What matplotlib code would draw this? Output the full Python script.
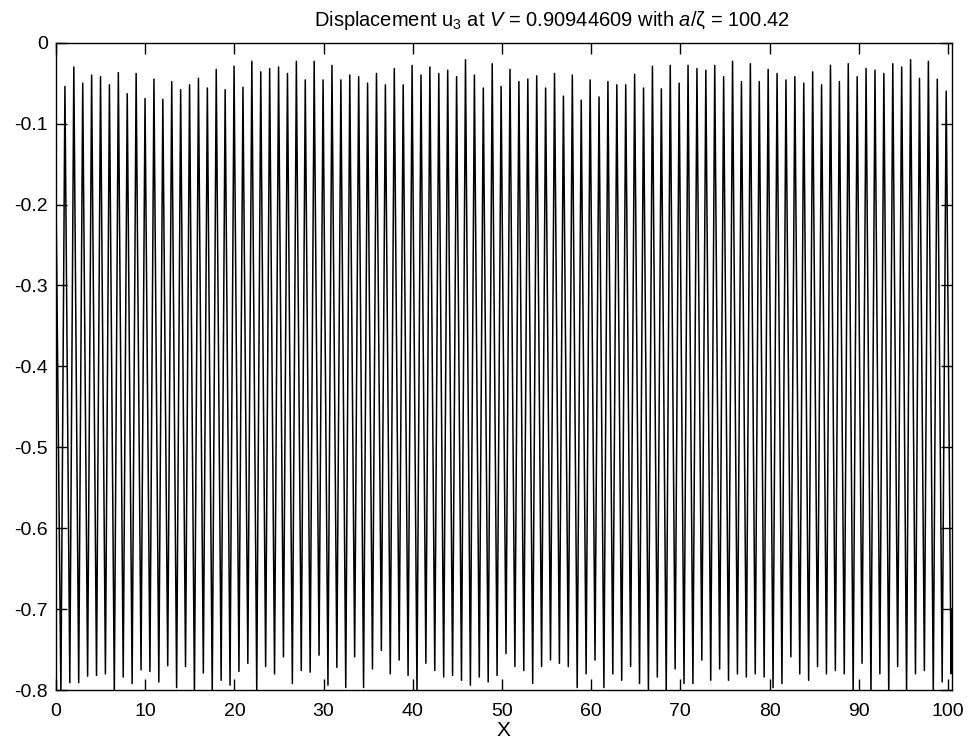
import matplotlib
matplotlib.use('Agg')
import matplotlib.pyplot as plt
import numpy as np

# crest values (one per cycle)
tops = [-0.054, -0.030, -0.050, -0.040, -0.042, -0.052, -0.037, -0.063, -0.038, -0.069,
        -0.045, -0.070, -0.048, -0.058, -0.052, -0.044, -0.056, -0.033, -0.058, -0.029,
        -0.055, -0.023, -0.036, -0.032, -0.030, -0.038, -0.023, -0.046, -0.023, -0.046,
        -0.028, -0.046, -0.040, -0.042, -0.050, -0.038, -0.052, -0.032, -0.052, -0.028,
        -0.040, -0.030, -0.038, -0.034, -0.042, -0.021, -0.040, -0.056, -0.026, -0.054,
        -0.033, -0.048, -0.045, -0.041, -0.056, -0.038, -0.066, -0.040, -0.071, -0.046,
        -0.067, -0.048, -0.052, -0.052, -0.039, -0.056, -0.029, -0.057, -0.028, -0.050,
        -0.028, -0.032, -0.034, -0.028, -0.042, -0.023, -0.048, -0.026, -0.048, -0.033,
        -0.038, -0.046, -0.042, -0.050, -0.036, -0.052, -0.028, -0.048, -0.026, -0.042,
        -0.032, -0.034, -0.038, -0.026, -0.030, -0.021, -0.044, -0.023, -0.045, -0.060]

# trough values (one per cycle, plus the last one)
bottoms = [-0.805, -0.791, -0.791, -0.783, -0.782, -0.780, -0.805, -0.784, -0.792, -0.775,
           -0.777, -0.790, -0.770, -0.797, -0.771, -0.805, -0.779, -0.805, -0.788, -0.794,
           -0.777, -0.767, -0.800, -0.771, -0.780, -0.759, -0.792, -0.776, -0.778, -0.757,
           -0.794, -0.772, -0.797, -0.759, -0.797, -0.774, -0.751, -0.780, -0.763, -0.782,
           -0.803, -0.767, -0.776, -0.784, -0.782, -0.788, -0.794, -0.784, -0.790, -0.782,
           -0.755, -0.771, -0.776, -0.792, -0.771, -0.763, -0.767, -0.771, -0.797, -0.780,
           -0.763, -0.797, -0.780, -0.788, -0.771, -0.792, -0.801, -0.784, -0.803, -0.774,
           -0.792, -0.792, -0.763, -0.788, -0.774, -0.788, -0.780, -0.784, -0.780, -0.784,
           -0.797, -0.792, -0.759, -0.780, -0.788, -0.771, -0.780, -0.776, -0.780, -0.805,
           -0.767, -0.805, -0.780, -0.805, -0.771, -0.805, -0.780, -0.776, -0.805, -0.790,
           -0.780]

x_start, u_start = 0.0, -0.19
x_end, u_end = 100.42, -0.70
period = 0.998
x_first_top = 1.0
x_first_bottom = 0.55

x_top = x_first_top + period * np.arange(len(tops))
x_bot = x_first_bottom + period * np.arange(len(bottoms))

# interleave troughs and crests into one trace
xs = [x_start]
us = [u_start]
for i in range(len(bottoms)):
    xs.append(x_bot[i]); us.append(bottoms[i])
    if i < len(tops):
        xs.append(x_top[i]); us.append(tops[i])
xs.append(x_end); us.append(u_end)

plt.rcParams['font.family'] = ['Liberation Sans', 'DejaVu Sans']
plt.rcParams['axes.unicode_minus'] = False
plt.rcParams['mathtext.fontset'] = 'custom'
plt.rcParams['mathtext.rm'] = 'Liberation Sans'
plt.rcParams['mathtext.it'] = 'Liberation Sans:italic'

fig = plt.figure(figsize=(9.69, 7.48), dpi=100)
ax = fig.add_axes([56 / 969, 1 - 690 / 748, (951.7 - 56) / 969, (690 - 42.7) / 748])
ax.plot(xs, us, color='black', lw=1.1)

ax.set_xlim(0, 100.42)
ax.set_ylim(-0.8, 0)
ax.set_xticks(np.arange(0, 101, 10))
ax.set_yticks(np.arange(-0.8, 0.01, 0.1))
ax.set_yticklabels(['-0.8', '-0.7', '-0.6', '-0.5', '-0.4', '-0.3', '-0.2', '-0.1', '0'])
ax.tick_params(direction='in', length=8, width=1, top=True, right=True,
               labelsize=14, pad=6)
ax.tick_params(axis='x', pad=9)
for s in ax.spines.values():
    s.set_linewidth(1)

ax.set_xlabel('X', fontsize=15, labelpad=1)
fig.text(552 / 969, 1 - 20 / 748,
         'Displacement u$_3$ at $V$ = 0.90944609 with $a$/\u03b6 = 100.42',
         ha='center', va='center', fontsize=14.5)

fig.savefig('out.png', dpi=100)
